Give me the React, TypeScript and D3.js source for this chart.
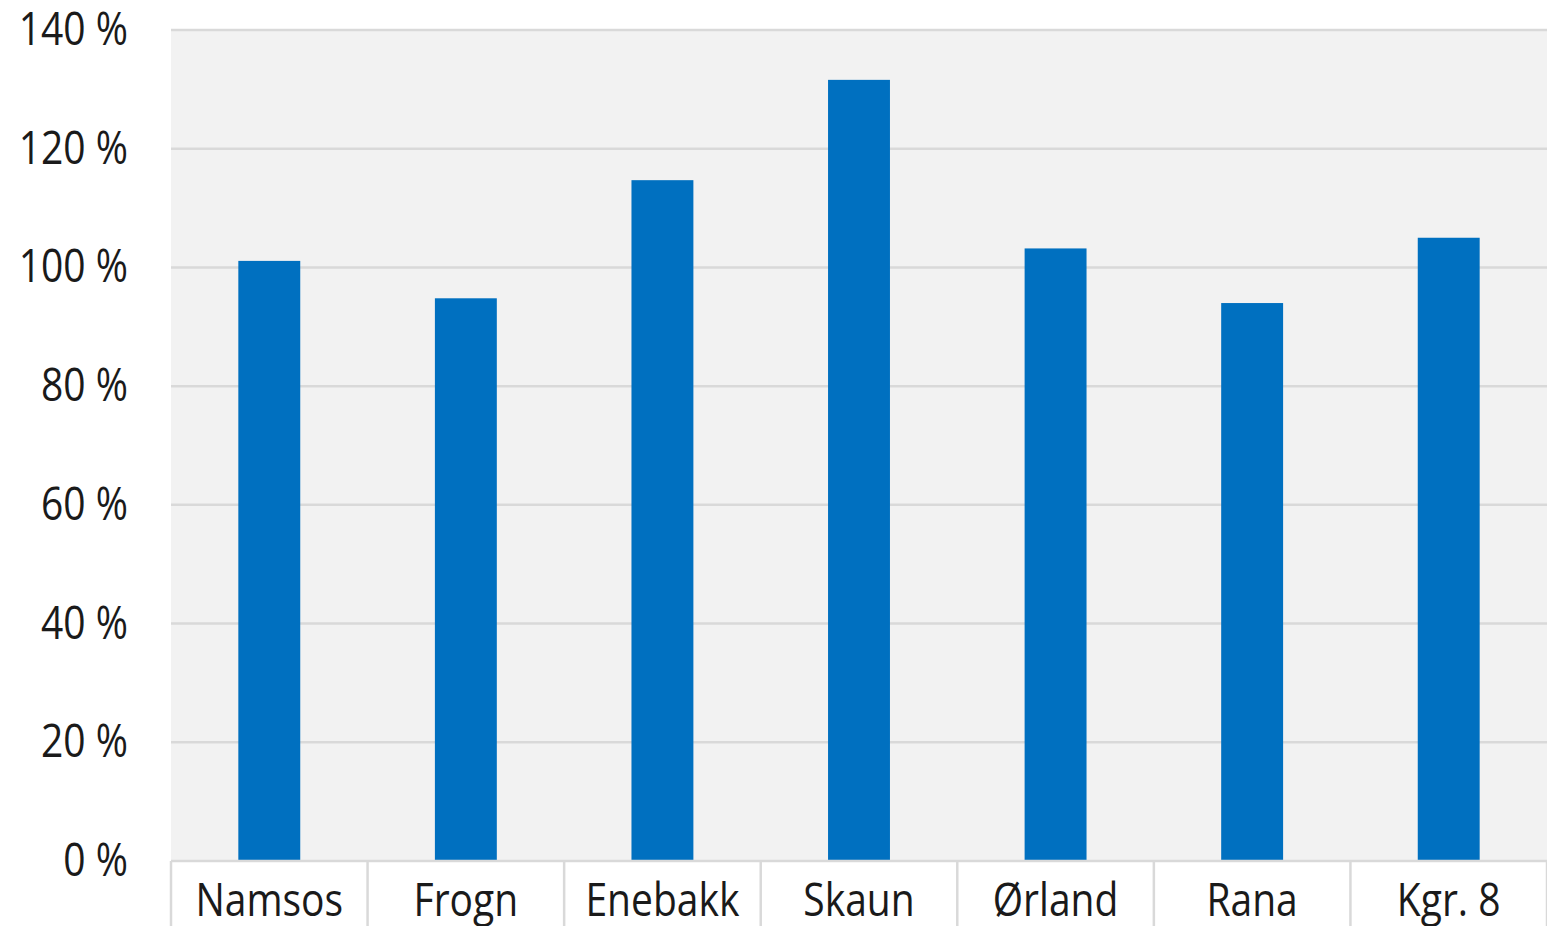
import React from "react";
import * as d3 from "d3";

const categories = ["Namsos", "Frogn", "Enebakk", "Skaun", "Ørland", "Rana", "Kgr. 8"];
const values = [101.1, 94.8, 114.7, 131.6, 103.2, 94.0, 105.0];
const yTicks = [0, 20, 40, 60, 80, 100, 120, 140];

const W = 1547;
const H = 926;
const left = 171;
const right = 1547;
const top = 30;
const bottom = 861;

export default function App() {
  const x = d3.scaleBand<string>().domain(categories).range([left, right]).paddingInner(0).paddingOuter(0);
  const y = d3.scaleLinear().domain([0, 140]).range([bottom, top]);
  const barW = x.step() * 0.315;
  const font = "'Open Sans', sans-serif";
  return (
    <svg width={W} height={H} style={{ position: "absolute", left: 0, top: 0, display: "block" }}>
      <rect x={0} y={0} width={W} height={H} fill="#ffffff" />
      <rect x={left} y={y(140) - 1} width={right - left} height={bottom - y(140) + 1} fill="#f2f2f2" />
      {yTicks.map((t) => (
        <g key={t}>
          {t > 0 && <line x1={left} x2={right} y1={y(t)} y2={y(t)} stroke="#d9d9d9" strokeWidth={2.5} />}
          <text x={128} y={y(t) + 15} textAnchor="end" fontFamily={font} fontSize={39} fill="#1a1a1a"
            transform={`translate(0 ${y(t) + 15}) scale(1 1.17) translate(0 ${-(y(t) + 15)})`}>
            {t} %
          </text>
        </g>
      ))}
      {categories.map((c, i) => (
        <rect key={c} x={x(c)! + x.step() / 2 - barW / 2} y={y(values[i])} width={barW} height={bottom - y(values[i])} fill="#0070c0" />
      ))}
      <line x1={left} x2={right} y1={bottom} y2={bottom} stroke="#d9d9d9" strokeWidth={2.5} />
      {[...categories.map((c) => x(c)!), right].map((px, i) => (
        <line key={i} x1={px} x2={px} y1={bottom} y2={H} stroke="#d9d9d9" strokeWidth={2.5} />
      ))}
      {categories.map((c) => (
        <text key={c} x={x(c)! + x.step() / 2} y={916} textAnchor="middle" fontFamily={font} fontSize={39} fill="#1a1a1a"
          transform={`translate(0 916) scale(1 1.17) translate(0 -916)`}>
          {c}
        </text>
      ))}
    </svg>
  );
}
